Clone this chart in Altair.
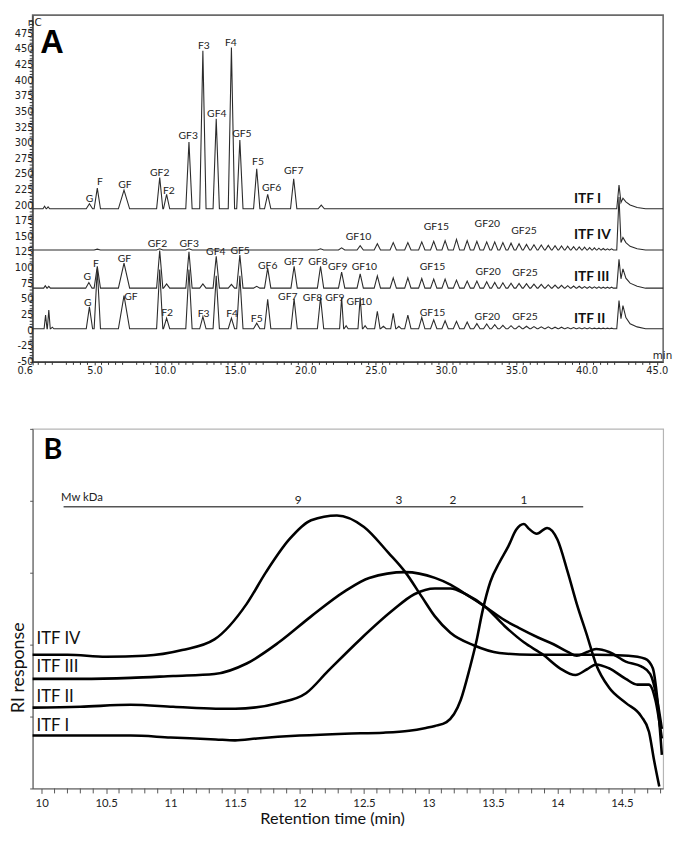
import altair as alt
import pandas as pd

# ======================= Panel A : HPAEC-PAD chromatograms =======================
A_XMIN, A_XMAX = 0.6, 45.45
A_YMIN, A_YMAX = -50, 505
A_W, A_H = 640, 352

# retention times (min) of the GF2 ... GF40 series
GF_T = [9.64, 11.72, 13.66, 15.34, 17.32, 19.2, 21.08, 22.58, 23.9, 25.12, 26.25, 27.29,
        28.28, 29.13, 29.94, 30.75, 31.51, 32.2, 32.9, 33.47, 34.05, 34.63, 35.2, 35.73,
        36.26, 36.78, 37.28, 37.76, 38.22, 38.66, 39.08, 39.48, 39.86, 40.22, 40.56,
        40.88, 41.19, 41.49, 41.78]

# baselines (nC)
BASE_I, BASE_IV, BASE_III, BASE_II = 195, 129, 68, 3

# ITF I peaks
I_T = [1.45, 1.7, 4.64, 5.2, 7.1, 9.64, 10.13, 11.72, 12.71, 13.66, 14.74, 15.34, 16.54, 17.32, 19.17, 21.13]
I_H = [4, 3, 8, 33, 30, 50, 23, 107, 253, 144, 258, 110, 64, 23, 48, 6]

# ITF IV peaks
IV_T = [5.2, 9.64, 11.72, 21.08] + GF_T[7:]
IV_H = [1.5, 2, 2, 2] + [3.6, 7, 10, 12, 12, 13, 14, 15, 17, 15, 14, 13, 13, 12, 11, 10, 9, 8.5,
                         8, 7.5, 7, 6.5, 6, 5.5, 5, 4.5, 4, 3.5, 3, 2.5, 2, 2]

# ITF III peaks
III_T = [1.5, 1.75, 4.6, 5.2, 7.1, 10.13, 12.71, 14.74, 16.54] + GF_T
III_H = [4, 3, 9, 35, 40, 6.7, 6.7, 6, 3] + [60, 58, 51, 53, 32, 35, 35] + \
        [25.6, 23, 19.5, 16.4, 16.4, 15.4, 14.4, 14.4, 12.8, 11.3, 11.3, 10.3, 9.2, 8.7, 8, 7.5,
         7, 6.5, 6, 5.5, 5, 4.5, 4, 3.5, 3, 2.5, 2.5, 2, 2, 1.5, 1.5, 1.5]

# ITF II peaks
II_T = [1.52, 1.75, 2.0, 4.64, 5.2, 7.1, 10.13, 12.71, 14.74, 16.54, 22.9, 24.25, 25.55, 26.65] + GF_T
II_H = [22, 30, 2.5, 35, 96, 53, 17, 19.5, 17, 9, 5, 5, 4, 4] + [95, 95, 85, 85, 47, 48, 50] + \
       [50, 50, 28, 24.6, 22, 18, 14.4, 12.8, 11.8, 10.8, 8.2, 7.7, 6.7, 5.6, 5, 4.5, 4, 3.5,
        3, 3, 2.5, 2.5, 2, 2, 1.5, 1.5, 1.5, 1, 1, 1, 1, 1]

# system peak cluster near 42.3 min (height above baseline)
END_T = [42.15, 42.31, 42.45, 42.59, 42.8, 43.1, 43.6, 44.2]
END_I = [0, 38, 10, 17, 11, 6, 2, 0]
END_IV = [0, 85, 12, 20, 12, 6, 2, 0]
END_III = [0, 46, 15, 31, 16, 8, 3, 0]
END_II = [0, 45, 16, 37, 18, 8, 3, 0]

WIDE = {7.1: 0.4}


def trace_rows(name, base, times, heights, end_h):
    pk = sorted(zip(times, heights))
    ts = [p[0] for p in pk]
    pts = [(A_XMIN, base)]
    for k, (t, h) in enumerate(pk):
        gaps = [0.5]
        if k > 0:
            gaps.append(t - ts[k - 1])
        if k < len(ts) - 1:
            gaps.append(ts[k + 1] - t)
        w = WIDE.get(t, 0.45 * min(gaps))
        pts += [(t - w, base), (t, base + h), (t + w, base)]
    pts += [(t, base + h) for t, h in zip(END_T, end_h)]
    pts.append((A_XMAX, base))
    return [{"trace": name, "i": j, "t": t, "v": v} for j, (t, v) in enumerate(pts)]


rows = []
rows += trace_rows("ITF I", BASE_I, I_T, I_H, END_I)
rows += trace_rows("ITF IV", BASE_IV, IV_T, IV_H, END_IV)
rows += trace_rows("ITF III", BASE_III, III_T, III_H, END_III)
rows += trace_rows("ITF II", BASE_II, II_T, II_H, END_II)
df_a = pd.DataFrame(rows)

# peak labels
PL_TXT = ["G", "F", "GF", "GF2", "F2", "GF3", "F3", "GF4", "F4", "GF5", "F5", "GF6", "GF7",
          "GF2", "GF3", "GF10", "GF15", "GF20", "GF25",
          "G", "F", "GF", "GF4", "GF5", "GF6", "GF7", "GF8", "GF9", "GF10", "GF15", "GF20", "GF25",
          "G", "GF", "F2", "F3", "F4", "F5", "GF7", "GF8", "GF9", "GF10", "GF15", "GF20", "GF25"]
PL_T = [4.64, 5.38, 7.17, 9.64, 10.29, 11.67, 12.78, 13.7, 14.7, 15.48, 16.63, 17.6, 19.17,
        9.48, 11.74, 23.78, 29.32, 32.94, 35.55,
        4.48, 5.1, 7.13, 13.63, 15.36, 17.32, 19.17, 20.9, 22.3, 24.2, 29.04, 33.0, 35.62,
        4.52, 7.59, 10.17, 12.76, 14.79, 16.54, 18.75, 20.51, 22.1, 23.83, 29.04, 32.94, 35.62]
PL_V = [210, 238, 233, 252, 224, 311, 456, 347, 460, 315, 270, 228, 256,
        138, 139, 150, 166, 170, 160,
        85, 107, 115, 126, 127, 103, 110, 109, 102, 102, 101, 93, 92,
        44, 53, 28, 26, 27, 19, 53, 52, 52, 45, 28, 22, 22]
df_pl = pd.DataFrame({"t": PL_T, "v": PL_V, "label": PL_TXT})

ITF_A_TXT = ["ITF I", "ITF IV", "ITF III", "ITF II"]
ITF_A_T = [39.1, 39.1, 39.1, 39.1]
ITF_A_V = [210, 153, 85, 19]
df_itfa = pd.DataFrame({"t": ITF_A_T, "v": ITF_A_V, "label": ITF_A_TXT})

# axis tick positions and labels
A_XLAB = [0.6] + [2.5 * k for k in range(1, 19)]
A_XMINOR = [round(1.0 + 0.5 * k, 1) for k in range(89) if (1.0 + 0.5 * k) % 2.5 != 0]
A_YLAB = list(range(-50, 500, 25))
A_YMINOR = [v for v in range(-45, 505, 5) if v % 25 != 0]

ax_xa = alt.Axis(values=A_XLAB, title=None, grid=False, tickSize=3, labelPadding=1,
                 labelFont="DejaVu Sans", labelFontSize=10, labelColor="#222",
                 labelFlush=False, labelOverlap=False, format=".1f",
                 labelAlign={"condition": {"test": "datum.value < 1", "value": "right"}, "value": "center"},
                 domainColor="#333", tickColor="#333")
ax_ya = alt.Axis(values=A_YLAB, title=None, grid=False, tickSize=3, labels=False,
                 domainColor="#333", tickColor="#333")

xa = alt.X("t:Q", scale=alt.Scale(domain=[A_XMIN, A_XMAX], nice=False, zero=False), axis=ax_xa)
ya = alt.Y("v:Q", scale=alt.Scale(domain=[A_YMIN, A_YMAX], nice=False, zero=False), axis=ax_ya)

lines_a = alt.Chart(df_a).mark_line(color="#2b2b2b", strokeWidth=1.1).encode(
    x=xa, y=ya, detail="trace:N", order="i:Q")
xminor_a = alt.Chart(pd.DataFrame({"t": A_XMINOR})).mark_rule(color="#333", strokeWidth=1).encode(
    x="t:Q", y=alt.value(A_H), y2=alt.value(A_H + 3))
yminor_a = alt.Chart(pd.DataFrame({"v": A_YMINOR})).mark_rule(color="#333", strokeWidth=1).encode(
    y="v:Q", x=alt.value(0), x2=alt.value(-3))
ylab_a = alt.Chart(pd.DataFrame({"v": A_YLAB, "label": [str(v) for v in A_YLAB]})).mark_text(
    font="DejaVu Sans", fontSize=10, color="#222", align="right", dx=1).encode(
    y="v:Q", x=alt.value(0), text="label:N")
peaks_a = alt.Chart(df_pl).mark_text(font="Lato", fontSize=10.5, color="#222").encode(
    x="t:Q", y="v:Q", text="label:N")
itf_a = alt.Chart(df_itfa).mark_text(font="Lato", fontSize=14, fontWeight="bold", align="left",
                                     color="#111").encode(x="t:Q", y="v:Q", text="label:N")
big_a = alt.Chart(pd.DataFrame({"t": [1.15], "v": [460], "label": ["A"]})).mark_text(
    font="Liberation Sans", fontSize=33, fontWeight="bold", align="left", color="black").encode(
    x="t:Q", y="v:Q", text="label:N")
unit_a = alt.Chart(pd.DataFrame({"t": [0.75, 45.4], "v": [492, -40], "label": ["nC", "min"]})).mark_text(
    font="DejaVu Sans", fontSize=10.5, color="#222").encode(
    x="t:Q", y="v:Q", text="label:N")

panel_a = alt.layer(lines_a, xminor_a, yminor_a, ylab_a, peaks_a, itf_a, big_a, unit_a).properties(
    width=A_W, height=A_H, view=alt.ViewBackground(stroke="#6a6a6a", strokeWidth=1.6))

# ======================= Panel B : SEC RI traces =======================
B_XMIN, B_XMAX = 9.93, 14.82
B_YMIN, B_YMAX = 0, 374
B_W, B_H = 640, 365

B_T_IV = [9.89, 10.2, 10.5, 10.8, 11.09, 11.34, 11.59, 11.74, 11.92, 12.09, 12.29, 12.50, 12.69,
          12.82, 12.95, 13.05, 13.17, 13.35, 13.55, 13.80, 14.05, 14.30, 14.55, 14.68, 14.74,
          14.77, 14.81]
B_V_IV = [139, 139, 137, 138, 144, 155, 192, 225, 259, 279, 284, 272, 245, 225, 199, 179, 162,
          149, 141, 139, 139, 139, 138, 135, 125, 99, 35]
B_T_III = [9.89, 10.3, 10.69, 11.02, 11.34, 11.59, 11.84, 12.09, 12.35, 12.54, 12.82, 13.05,
           13.17, 13.29, 13.44, 13.59, 13.70, 13.85, 13.97, 14.08, 14.15, 14.23, 14.30, 14.40,
           14.53, 14.65, 14.72, 14.77, 14.81]
B_V_III = [114, 114, 115, 117, 119, 130, 152, 179, 205, 219, 225, 219, 212, 202, 189, 175, 167,
           157, 150, 142, 138, 142, 145, 142, 132, 127, 119, 95, 62]
B_T_II = [9.89, 10.3, 10.69, 11.02, 11.35, 11.5, 11.84, 12.05, 12.22, 12.47, 12.72, 12.89, 13.05,
          13.17, 13.29, 13.44, 13.59, 13.74, 13.89, 14.02, 14.14, 14.23, 14.30, 14.40, 14.53,
          14.62, 14.71, 14.76, 14.81]
B_V_II = [84, 85, 87, 85, 83, 83, 89, 99, 122, 155, 185, 202, 208, 208, 202, 189, 169, 152, 139,
          125, 118, 124, 129, 125, 114, 108, 108, 92, 52]
B_T_I = [9.89, 10.3, 10.69, 11.0, 11.35, 11.5, 11.67, 12.0, 12.35, 12.65, 12.85, 12.98, 13.05,
         13.14, 13.25, 13.32, 13.37, 13.42, 13.48, 13.55, 13.62, 13.68, 13.74, 13.78, 13.84,
         13.92, 14.0, 14.08, 14.15, 14.23, 14.30, 14.40, 14.53, 14.65, 14.71, 14.75, 14.79]
B_V_I = [55, 55, 55, 53, 51, 50, 52, 55, 57, 58, 60, 63, 65, 69, 92, 125, 152, 185, 215, 235,
         252, 269, 275, 270, 265, 271, 259, 225, 192, 159, 129, 105, 89, 75, 59, 29, 2]

rows_b = []
for name, ts, vs in [("ITF IV", B_T_IV, B_V_IV), ("ITF III", B_T_III, B_V_III),
                     ("ITF II", B_T_II, B_V_II), ("ITF I", B_T_I, B_V_I)]:
    for j, (t, v) in enumerate(zip(ts, vs)):
        rows_b.append({"trace": name, "i": j, "t": t, "v": v})
df_b = pd.DataFrame(rows_b)

ITF_B_TXT = ["ITF IV", "ITF III", "ITF II", "ITF I"]
ITF_B_T = [9.96, 9.96, 9.96, 9.96]
ITF_B_V = [155, 126, 95, 65]

MW_TXT = ["9", "3", "2", "1"]
MW_T = [11.99, 12.77, 13.19, 13.74]
MW_V = [300, 300, 300, 300]
MW_LINE = [10.17, 14.2, 293]

B_XLAB = [10 + 0.5 * k for k in range(10)]
B_XMINOR = [round(10.0 + 0.1 * k, 1) for k in range(49) if k % 5 != 0]
B_YTICKS = [round(18.7 * k, 1) for k in range(21)]

ax_xb = alt.Axis(values=B_XLAB, title="Retention time (min)", grid=False, tickSize=5,
                 labelPadding=4, labelFont="Lato", labelFontSize=11.5, labelColor="#222",
                 labelFlush=False, labelOverlap=False, format="~g",
                 titleFont="Lato", titleFontSize=16.5, titleFontWeight="normal", titleColor="#111",
                 titlePadding=2, titleX=304,
                 domainColor="#555", tickColor="#555")
ax_yb = alt.Axis(values=B_YTICKS, title="RI response", grid=False, tickSize=3, labels=False,
                 titleFont="Lato", titleFontSize=18, titleFontWeight="normal", titleColor="#111",
                 titlePadding=2, titleY=242, domainColor="#555", tickColor="#555")

xb = alt.X("t:Q", scale=alt.Scale(domain=[B_XMIN, B_XMAX], nice=False, zero=False), axis=ax_xb)
yb = alt.Y("v:Q", scale=alt.Scale(domain=[B_YMIN, B_YMAX], nice=False, zero=False), axis=ax_yb)

lines_b = alt.Chart(df_b).mark_line(color="black", strokeWidth=2.6, interpolate="monotone",
                                    clip=True).encode(x=xb, y=yb, detail="trace:N", order="i:Q")
xminor_b = alt.Chart(pd.DataFrame({"t": B_XMINOR})).mark_rule(color="#555", strokeWidth=1).encode(
    x="t:Q", y=alt.value(B_H), y2=alt.value(B_H + 5))
itf_b = alt.Chart(pd.DataFrame({"t": ITF_B_T, "v": ITF_B_V, "label": ITF_B_TXT})).mark_text(
    font="Lato", fontSize=17, align="left", color="#111").encode(x="t:Q", y="v:Q", text="label:N")
mw_rule = alt.Chart(pd.DataFrame({"t": [MW_LINE[0]], "t2": [MW_LINE[1]], "v": [MW_LINE[2]]})).mark_rule(
    color="#555", strokeWidth=1.5).encode(x="t:Q", x2="t2:Q", y="v:Q")
mw_num = alt.Chart(pd.DataFrame({"t": MW_T, "v": MW_V, "label": MW_TXT})).mark_text(
    font="Lato", fontSize=12, color="#222").encode(x="t:Q", y="v:Q", text="label:N")
mw_lab = alt.Chart(pd.DataFrame({"t": [10.15], "v": [302], "label": ["Mw kDa"]})).mark_text(
    font="Lato", fontSize=11.5, align="left", color="#222").encode(x="t:Q", y="v:Q", text="label:N")
big_b = alt.Chart(pd.DataFrame({"t": [10.015], "v": [352], "label": ["B"]})).mark_text(
    font="Lato", fontSize=29, fontWeight="bold", align="left", color="black").encode(
    x="t:Q", y="v:Q", text="label:N")

panel_b = alt.layer(lines_b, xminor_b, mw_rule, mw_num, mw_lab, itf_b, big_b).properties(
    width=B_W, height=B_H, view=alt.ViewBackground(stroke="#b5b5b5", strokeWidth=1.2))

chart = alt.vconcat(panel_a, panel_b, spacing=51, padding=0).configure(
    padding=0, background="white")

chart.save("out.html", embed_options={"renderer": "svg", "actions": False})
